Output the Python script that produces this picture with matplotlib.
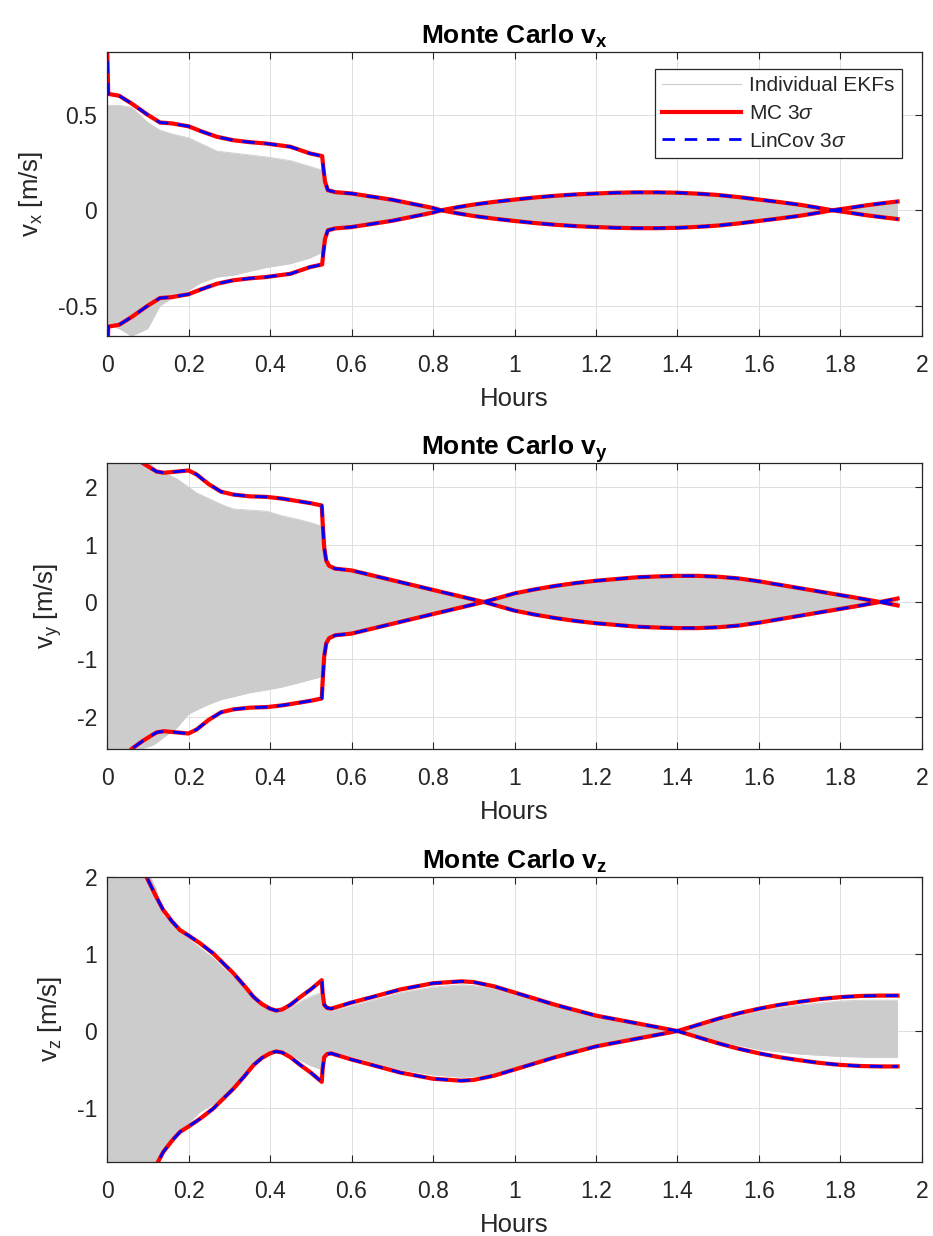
import numpy as np
import matplotlib
matplotlib.use("Agg")
import matplotlib.pyplot as plt
from matplotlib.lines import Line2D

plt.rcParams['font.family'] = ['Liberation Sans', 'DejaVu Sans']
plt.rcParams['mathtext.fontset'] = 'custom'
plt.rcParams['mathtext.rm'] = 'Liberation Sans'
plt.rcParams['mathtext.it'] = 'Liberation Sans:italic'
plt.rcParams['mathtext.bf'] = 'Liberation Sans:bold'
plt.rcParams['axes.unicode_minus'] = False

# time axis labels (hours)
x_ticks = [0, 0.2, 0.4, 0.6, 0.8, 1.0, 1.2, 1.4, 1.6, 1.8, 2.0]
x_ticklabels = ['0', '0.2', '0.4', '0.6', '0.8', '1', '1.2', '1.4', '1.6', '1.8', '2']

# ---- v_x : 3-sigma bound (MC and LinCov agree) ----
t_sig_vx = [0, 0.003, 0.03, 0.06, 0.1, 0.13, 0.16, 0.2, 0.23, 0.27, 0.31, 0.35, 0.39,
            0.45, 0.498, 0.528, 0.531, 0.535, 0.542, 0.56, 0.6, 0.7, 0.8, 0.82, 0.86,
            0.9, 0.95, 1.0, 1.05, 1.1, 1.15, 1.2, 1.25, 1.3, 1.35, 1.4, 1.45, 1.5,
            1.55, 1.6, 1.65, 1.7, 1.74, 1.78, 1.82, 1.86, 1.9, 1.94]
sig_vx = [0.9, 0.61, 0.6, 0.56, 0.5, 0.46, 0.455, 0.44, 0.415, 0.385, 0.367, 0.357, 0.35,
          0.333, 0.298, 0.284, 0.22, 0.15, 0.105, 0.095, 0.088, 0.055, 0.012, 0.0, 0.016,
          0.03, 0.044, 0.056, 0.067, 0.076, 0.083, 0.088, 0.092, 0.094, 0.094, 0.092, 0.087, 0.08,
          0.069, 0.056, 0.043, 0.029, 0.015, 0.0, 0.012, 0.025, 0.036, 0.046]
# extent of the individual EKF error traces
t_ekf_vx = [0, 0.03, 0.06, 0.1, 0.13, 0.16, 0.2, 0.23, 0.27, 0.31, 0.35, 0.39, 0.45, 0.498,
            0.528, 0.531, 0.535, 0.542, 0.56, 0.6, 0.7, 0.8, 0.82, 0.9, 1.0, 1.1, 1.2, 1.3,
            1.4, 1.5, 1.6, 1.7, 1.78, 1.86, 1.94]
ekf_hi_vx = [0.55, 0.55, 0.54, 0.46, 0.42, 0.4, 0.38, 0.35, 0.31, 0.3, 0.29, 0.28, 0.26, 0.23,
             0.21, 0.18, 0.12, 0.095, 0.09, 0.084, 0.052, 0.011, 0.0, 0.028, 0.054, 0.074, 0.086, 0.092,
             0.09, 0.078, 0.054, 0.028, 0.0, 0.023, 0.044]
ekf_lo_vx = [-0.6, -0.62, -0.66, -0.62, -0.5, -0.46, -0.42, -0.38, -0.35, -0.34, -0.32, -0.3, -0.28, -0.25,
             -0.22, -0.18, -0.12, -0.095, -0.09, -0.084, -0.052, -0.011, 0.0, -0.028, -0.054, -0.074, -0.086, -0.092,
             -0.09, -0.078, -0.054, -0.028, 0.0, -0.023, -0.04]

# ---- v_y ----
t_sig_vy = [0, 0.03, 0.06, 0.0875, 0.11, 0.122, 0.14, 0.17, 0.2, 0.22, 0.25, 0.28, 0.31,
            0.35, 0.392, 0.43, 0.474, 0.5, 0.527, 0.529, 0.533, 0.538, 0.545, 0.56, 0.6,
            0.7, 0.8, 0.925, 0.97, 1.0, 1.05, 1.1, 1.15, 1.2, 1.25, 1.3, 1.35, 1.4, 1.45,
            1.5, 1.55, 1.6, 1.65, 1.7, 1.75, 1.8, 1.85, 1.897, 1.94]
sig_vy = [3.6, 3.0, 2.56, 2.42, 2.32, 2.27, 2.25, 2.27, 2.29, 2.22, 2.05, 1.92, 1.87,
          1.84, 1.83, 1.8, 1.75, 1.72, 1.68, 1.4, 0.95, 0.72, 0.63, 0.58, 0.55,
          0.38, 0.21, 0.0, 0.09, 0.15, 0.22, 0.28, 0.33, 0.37, 0.4, 0.43, 0.445, 0.455, 0.455,
          0.44, 0.41, 0.36, 0.3, 0.24, 0.18, 0.12, 0.06, 0.0, 0.06]
t_ekf_vy = [0, 0.03, 0.06, 0.0875, 0.11, 0.122, 0.14, 0.17, 0.2, 0.22, 0.25, 0.28, 0.31,
            0.35, 0.392, 0.43, 0.474, 0.5, 0.527, 0.529, 0.533, 0.538, 0.545, 0.56, 0.6,
            0.7, 0.8, 0.925, 1.0, 1.1, 1.2, 1.3, 1.4, 1.5, 1.6, 1.7, 1.8, 1.897, 1.94]
ekf_hi_vy = [2.6, 2.6, 2.6, 2.6, 2.38, 2.3, 2.25, 2.15, 2.0, 1.9, 1.8, 1.7, 1.62,
             1.6, 1.58, 1.5, 1.43, 1.38, 1.32, 1.2, 0.85, 0.68, 0.6, 0.55, 0.52,
             0.36, 0.2, 0.0, 0.14, 0.27, 0.36, 0.42, 0.445, 0.43, 0.35, 0.23, 0.11, 0.0, 0.05]
ekf_lo_vy = [-2.6, -2.6, -2.6, -2.55, -2.5, -2.45, -2.35, -2.2, -1.95, -1.88, -1.78, -1.7, -1.65,
             -1.58, -1.53, -1.48, -1.4, -1.35, -1.3, -1.2, -0.85, -0.68, -0.6, -0.55, -0.52,
             -0.36, -0.2, 0.0, -0.14, -0.27, -0.36, -0.42, -0.445, -0.43, -0.35, -0.23, -0.11, 0.0, -0.05]

# ---- v_z ----
t_sig_vz = [0, 0.05, 0.097, 0.12, 0.138, 0.16, 0.179, 0.2, 0.228, 0.26, 0.285, 0.31, 0.335,
            0.36, 0.38, 0.4, 0.415, 0.43, 0.45, 0.474, 0.5, 0.527, 0.529, 0.533, 0.54,
            0.55, 0.6, 0.65, 0.72, 0.8, 0.87, 0.9, 0.95, 1.0, 1.05, 1.1, 1.15, 1.2, 1.25,
            1.3, 1.35, 1.4, 1.45, 1.5, 1.55, 1.6, 1.65, 1.7, 1.75, 1.8, 1.85, 1.9, 1.94]
sig_vz = [3.0, 2.5, 2.0, 1.75, 1.57, 1.42, 1.31, 1.24, 1.14, 1.01, 0.88, 0.75, 0.6,
          0.44, 0.35, 0.29, 0.265, 0.28, 0.34, 0.44, 0.54, 0.66, 0.5, 0.34, 0.3,
          0.29, 0.37, 0.44, 0.54, 0.62, 0.645, 0.635, 0.58, 0.5, 0.42, 0.34, 0.27, 0.2, 0.15,
          0.1, 0.05, 0.0, 0.08, 0.16, 0.23, 0.29, 0.34, 0.38, 0.415, 0.44, 0.455, 0.46, 0.46]
t_ekf_vz = [0, 0.05, 0.097, 0.12, 0.138, 0.16, 0.179, 0.2, 0.228, 0.26, 0.285, 0.31, 0.335,
            0.36, 0.38, 0.4, 0.415, 0.43, 0.45, 0.474, 0.5, 0.527, 0.529, 0.533, 0.54,
            0.55, 0.6, 0.65, 0.72, 0.8, 0.87, 0.9, 0.95, 1.0, 1.1, 1.2, 1.3,
            1.4, 1.5, 1.6, 1.7, 1.8, 1.86, 1.94]
ekf_hi_vz = [2.1, 2.1, 2.1, 1.85, 1.5, 1.4, 1.28, 1.2, 1.08, 0.95, 0.82, 0.7, 0.56,
             0.42, 0.33, 0.27, 0.25, 0.26, 0.3, 0.38, 0.45, 0.5, 0.42, 0.3, 0.27,
             0.26, 0.33, 0.4, 0.5, 0.57, 0.6, 0.59, 0.55, 0.47, 0.32, 0.19, 0.09,
             0.0, 0.14, 0.26, 0.34, 0.39, 0.4, 0.4]
ekf_lo_vz = [-1.8, -1.8, -1.8, -1.8, -1.6, -1.45, -1.3, -1.2, -1.05, -0.95, -0.85, -0.72, -0.55,
             -0.42, -0.33, -0.27, -0.25, -0.26, -0.3, -0.38, -0.45, -0.5, -0.42, -0.3, -0.27,
             -0.26, -0.33, -0.4, -0.5, -0.57, -0.6, -0.59, -0.55, -0.47, -0.32, -0.19, -0.09,
             0.0, -0.13, -0.24, -0.3, -0.33, -0.34, -0.34]

panels = [
    ('x', t_sig_vx, sig_vx, t_ekf_vx, ekf_hi_vx, ekf_lo_vx, (-0.66, 0.83),
     [-0.5, 0, 0.5], ['-0.5', '0', '0.5']),
    ('y', t_sig_vy, sig_vy, t_ekf_vy, ekf_hi_vy, ekf_lo_vy, (-2.56, 2.42),
     [-2, -1, 0, 1, 2], ['-2', '-1', '0', '1', '2']),
    ('z', t_sig_vz, sig_vz, t_ekf_vz, ekf_hi_vz, ekf_lo_vz, (-1.70, 2.0),
     [-1, 0, 1, 2], ['-1', '0', '1', '2']),
]

ekf_gray = '#cccccc'
txt = '#262626'

fig = plt.figure(figsize=(9.33, 12.36), dpi=100)
positions = [[0.1147, 0.728, 0.8735, 0.230],
             [0.1147, 0.394, 0.8735, 0.2314],
             [0.1147, 0.0599, 0.8735, 0.2306]]

for pos, (comp, ts, sig, te, hi, lo, ylim, yt, ytl) in zip(positions, panels):
    ax = fig.add_axes(pos)
    sig = np.array(sig)

    # spread of the individual filter runs
    ax.fill_between(te, lo, hi, color=ekf_gray, lw=0)
    ax.plot(te, hi, color=ekf_gray, lw=0.6)
    ax.plot(te, lo, color=ekf_gray, lw=0.6)

    # Monte Carlo and linear covariance 3-sigma bounds
    for s in (sig, -sig):
        ax.plot(ts, s, color='#ff0000', lw=3.0, solid_joinstyle='round')
    for s in (sig, -sig):
        ax.plot(ts, s, color='#0000ff', lw=2.0, dashes=(4.5, 3.5))

    ax.set_xlim(0, 2)
    ax.set_ylim(*ylim)
    ax.set_xticks(x_ticks)
    ax.set_xticklabels(x_ticklabels)
    ax.set_yticks(yt)
    ax.set_yticklabels(ytl)
    ax.set_axisbelow(True)
    ax.grid(True, color='#dedede', lw=0.7)
    ax.tick_params(direction='in', length=5, width=0.8, colors=txt, labelsize=16.5,
                   top=True, right=True)
    ax.tick_params(axis='x', pad=13)
    ax.tick_params(axis='y', pad=7)
    for sp in ax.spines.values():
        sp.set_color(txt)
        sp.set_linewidth(0.9)

    ax.set_title(r'Monte Carlo v$_{\mathbf{%s}}$' % comp, fontsize=19,
                 fontweight='bold', pad=6)
    ax.set_xlabel('Hours', fontsize=18.5, color=txt, labelpad=7)
    ax.set_ylabel(r'v$_{\mathrm{%s}}$ [m/s]' % comp, fontsize=18.5, color=txt, labelpad=9)

    if comp == 'x':
        handles = [Line2D([], [], color=ekf_gray, lw=0.8),
                   Line2D([], [], color='#ff0000', lw=3.0),
                   Line2D([], [], color='#0000ff', lw=2.0, dashes=(4.5, 3.5))]
        leg = ax.legend(handles, ['Individual EKFs', r'MC 3$\sigma$', r'LinCov 3$\sigma$'],
                        loc='upper right', bbox_to_anchor=(0.9755, 0.94), fontsize=15,
                        fancybox=False, framealpha=1, edgecolor='#262626',
                        handlelength=3.8, handletextpad=0.4, borderpad=0.35,
                        labelspacing=0.42, borderaxespad=0)
        leg.get_frame().set_linewidth(0.9)
        for tx in leg.get_texts():
            tx.set_color(txt)

fig.savefig('out.png', dpi=100)
